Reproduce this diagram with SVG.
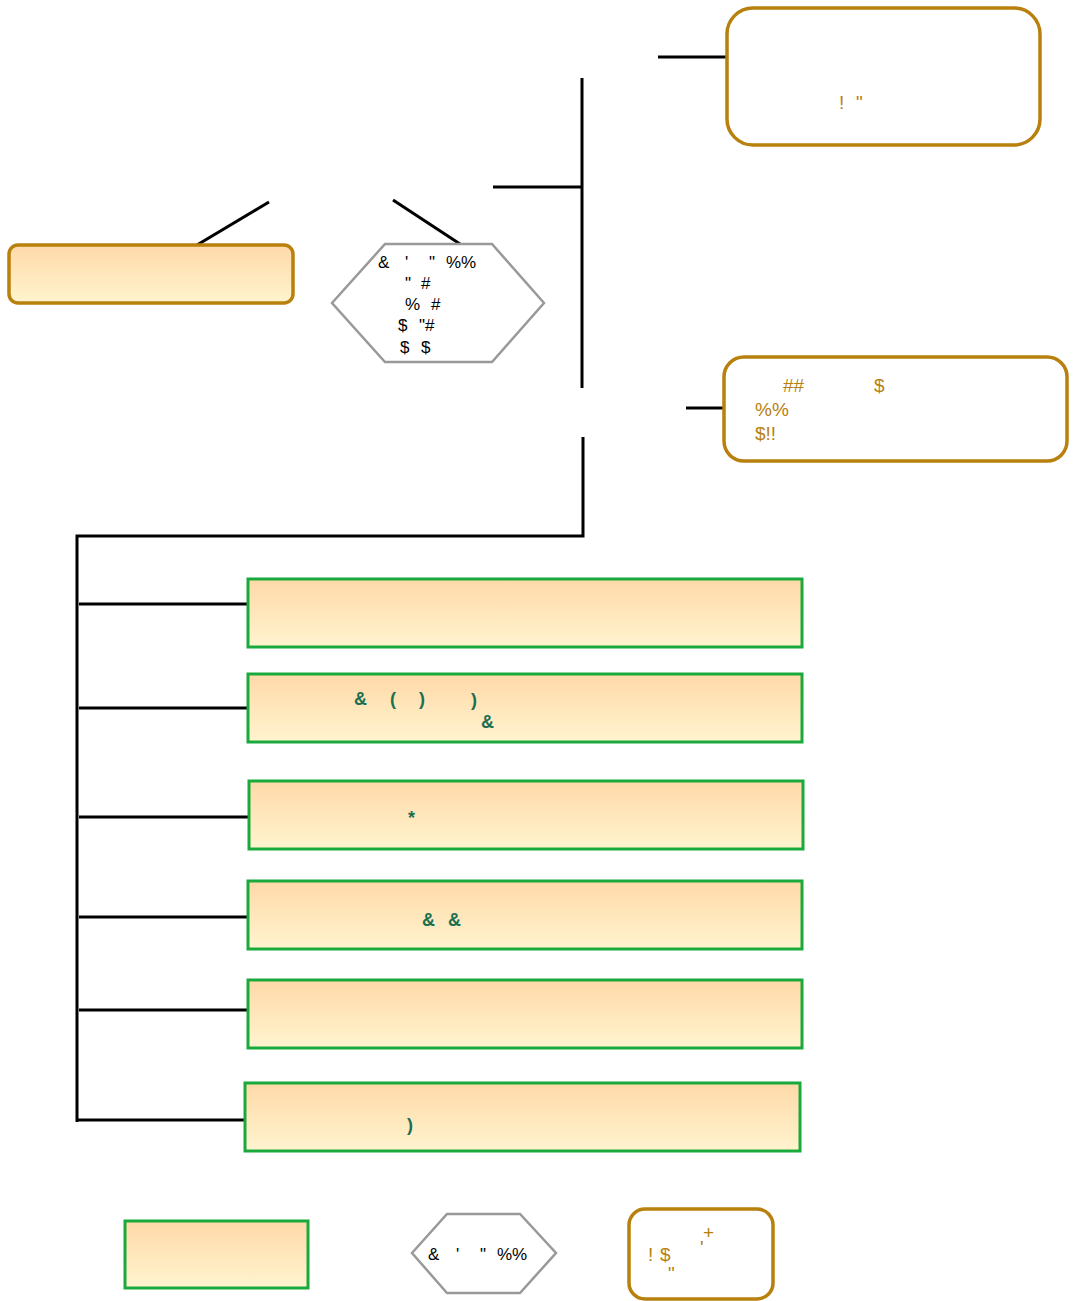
<svg xmlns="http://www.w3.org/2000/svg" width="1074" height="1301" viewBox="0 0 1074 1301">
<style>
.c{stroke:#000;stroke-width:3;fill:none}
.gb{fill:url(#g);stroke:#1aaa3c;stroke-width:3}
.ob{fill:#fff;stroke:#b8800c;stroke-width:3.5}
.of{fill:url(#g);stroke:#b8800c;stroke-width:3.5}
.hx{fill:#fff;stroke:#999;stroke-width:2.5}
.tk{font-family:"Liberation Sans",Arial,sans-serif;font-size:17px;fill:#000}
.to{font-family:"Liberation Sans",Arial,sans-serif;font-size:19px;fill:#b8800c}
.tg{font-family:"Liberation Sans",Arial,sans-serif;font-size:18px;font-weight:bold;fill:#1c6e52}
</style>
<defs>
<linearGradient id="g" x1="0" y1="0" x2="0" y2="1">
<stop offset="0" stop-color="#ffd9a8"/>
<stop offset="1" stop-color="#fff4cf"/>
</linearGradient>
</defs>
<rect width="1074" height="1301" fill="#fff"/>
<g id="connectors">
<line class="c" x1="658" y1="57" x2="727" y2="57"/>
<line class="c" x1="582" y1="78" x2="582" y2="388"/>
<line class="c" x1="493" y1="187" x2="582" y2="187"/>
<polyline class="c" points="583,437 583,536 77,536 77,1122"/>
<line class="c" x1="686" y1="408" x2="724" y2="408"/>
<line class="c" x1="197" y1="245" x2="269" y2="202"/>
<line class="c" x1="393" y1="200" x2="460" y2="244"/>
<line class="c" x1="79" y1="604" x2="248" y2="604"/>
<line class="c" x1="79" y1="708" x2="248" y2="708"/>
<line class="c" x1="79" y1="817" x2="249" y2="817"/>
<line class="c" x1="79" y1="917" x2="248" y2="917"/>
<line class="c" x1="79" y1="1010" x2="248" y2="1010"/>
<line class="c" x1="77" y1="1120" x2="245" y2="1120"/>
</g>
<g id="n_top_right">
<rect class="ob" x="727" y="8" width="313" height="137" rx="26"/>
<text class="to" x="839" y="109">!</text>
<text class="to" x="856" y="109">"</text>
</g>
<g id="n_right2">
<rect class="ob" x="724" y="357" width="343" height="104" rx="20"/>
<text class="to" x="783" y="392">##</text>
<text class="to" x="874" y="392">$</text>
<text class="to" x="755" y="416">%%</text>
<text class="to" x="755" y="440">$!!</text>
</g>
<g id="n_left">
<rect class="of" x="9" y="245" width="284" height="58" rx="9"/>
</g>
<g id="n_hex">
<polygon class="hx" points="332,303 385,244 492,244 544,303 492,362 385,362"/>
<text class="tk" x="378" y="268">&amp;</text>
<text class="tk" x="405" y="268">'</text>
<text class="tk" x="429" y="268">"</text>
<text class="tk" x="446" y="268">%%</text>
<text class="tk" x="405" y="289">"</text>
<text class="tk" x="421" y="289">#</text>
<text class="tk" x="405" y="310">%</text>
<text class="tk" x="431" y="310">#</text>
<text class="tk" x="398" y="331">$</text>
<text class="tk" x="419" y="331">"#</text>
<text class="tk" x="400" y="353">$</text>
<text class="tk" x="421" y="353">$</text>
</g>
<g id="n_g1"><rect class="gb" x="248" y="579" width="554" height="68"/></g>
<g id="n_g2">
<rect class="gb" x="248" y="674" width="554" height="68"/>
<text class="tg" x="354" y="705">&amp;</text>
<text class="tg" x="390" y="705">(</text>
<text class="tg" x="419" y="705">)</text>
<text class="tg" x="471" y="706">)</text>
<text class="tg" x="481" y="728">&amp;</text>
</g>
<g id="n_g3">
<rect class="gb" x="249" y="781" width="554" height="68"/>
<text class="tg" x="408" y="824" font-size="14">*</text>
</g>
<g id="n_g4">
<rect class="gb" x="248" y="881" width="554" height="68"/>
<text class="tg" x="422" y="926">&amp;</text>
<text class="tg" x="448" y="926">&amp;</text>
</g>
<g id="n_g5"><rect class="gb" x="248" y="980" width="554" height="68"/></g>
<g id="n_g6">
<rect class="gb" x="245" y="1083" width="555" height="68"/>
<text class="tg" x="407" y="1131">)</text>
</g>
<g id="legend_rect"><rect class="gb" x="125" y="1221" width="183" height="67"/></g>
<g id="legend_hex">
<polygon class="hx" points="412,1253 447,1214 520,1214 556,1253 520,1293 447,1293"/>
<text class="tk" x="428" y="1260">&amp;</text>
<text class="tk" x="456" y="1260">'</text>
<text class="tk" x="480" y="1260">"</text>
<text class="tk" x="497" y="1260">%%</text>
</g>
<g id="legend_round">
<rect class="ob" x="629" y="1209" width="144" height="90" rx="16"/>
<text class="to" x="648" y="1261">!</text>
<text class="to" x="660" y="1261">$</text>
<text class="to" x="703" y="1239" font-size="17">+</text>
<text class="to" x="700" y="1254" font-size="14">'</text>
<text class="to" x="668" y="1280" font-size="14">"</text>
</g>
</svg>
